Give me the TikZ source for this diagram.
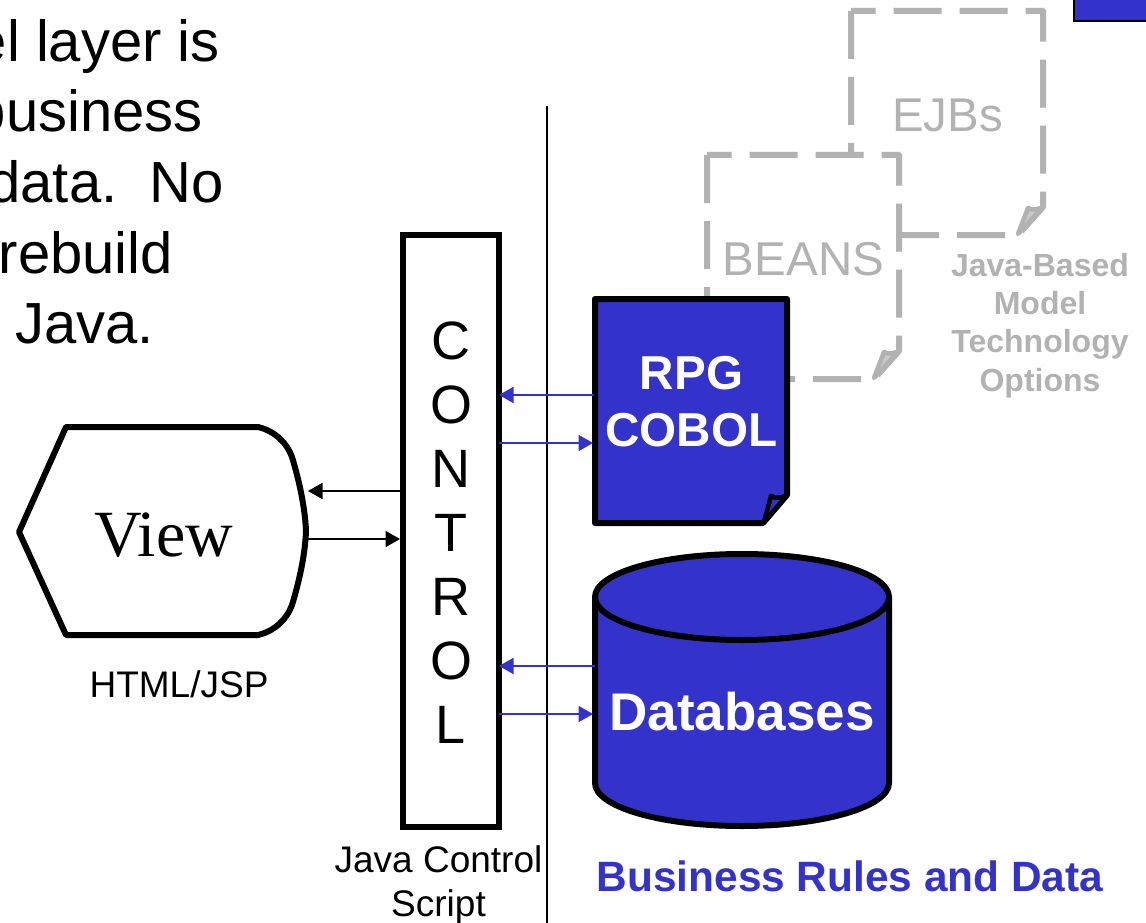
\documentclass[tikz,border=0pt]{standalone}
\usepackage{fontspec}
\setmainfont{Liberation Sans}
\newfontfamily\viewfont{Liberation Serif}
\usepackage{tikz}
\usetikzlibrary{arrows.meta}
\definecolor{modelblue}{HTML}{3333CC}
\definecolor{optgray}{HTML}{B2B2B2}
\definecolor{foldgray}{HTML}{C8C8C8}
\tikzstyle{es} = [line width=1.8pt,-{Triangle[length=14.5pt,width=16pt]}]
\tikzstyle{esblue} = [es,draw=modelblue,color=modelblue]
\tikzstyle{txt} = [inner sep=0pt,anchor=base east,font=\fontsize{58}{70}\selectfont]
\tikzstyle{shapeline} = [line width=6pt,line join=round]
\tikzstyle{optdoc} = [line width=6pt,draw=optgray,fill=white,line join=round,dash pattern=on 48pt off 18pt]
\tikzstyle{optfold} = [line width=4.5pt,draw=optgray,fill=foldgray,line join=round]
\tikzstyle{small} = [inner sep=0pt,align=center,font=\fontsize{37}{44}\selectfont]
\begin{document}
\begin{tikzpicture}[yscale=-1]
			\useasboundingbox (0pt,0pt) rectangle (1146pt,923pt);
			\node[txt] (line1) at (220pt,62pt){el layer is};
			\node[txt] (line2) at (203pt,132pt){business};
			\node[txt] (line3) at (224pt,202pt){data.\ \ No};
			\node[txt] (line4) at (173pt,273pt){rebuild};
			\node[txt] (line5) at (154pt,343pt){Java.};
			\fill[modelblue,draw=black,line width=2pt] (1074pt,-5pt) rectangle (1152pt,21pt);
			% divider
			\draw[line width=1.7pt] (547pt,106pt) -- (547pt,923pt);
			% model options, back to front
			\draw[optdoc] (851pt,11pt) -- (851pt,235pt) -- (1018pt,235pt) -- (1043pt,207pt) -- (1043pt,11pt) -- (851pt,11pt);
			\draw[optfold] (1018pt,234pt) -- (1028pt,208pt) .. controls (1033pt,211pt) and (1038pt,209pt) .. (1043pt,207pt) -- cycle;
			\node[inner sep=0pt,color=optgray,font=\fontsize{47.4}{56}\selectfont] (ejbs) at (947.5pt,115pt){EJBs};
			\draw[optdoc] (707pt,155pt) -- (707pt,379pt) -- (874pt,379pt) -- (899pt,351pt) -- (899pt,155pt) -- (707pt,155pt);
			\draw[optfold] (874pt,378pt) -- (884pt,352pt) .. controls (889pt,355pt) and (894pt,353pt) .. (899pt,351pt) -- cycle;
			\node[inner sep=0pt,color=optgray,font=\fontsize{47.5}{56}\selectfont] (beans) at (803.5pt,259pt){BEANS};
			\node[inner sep=0pt,align=center,color=optgray,font=\fontsize{32}{38.4}\selectfont\bfseries] (options) at (1040pt,325.5pt){Java-Based\\Model\\Technology\\Options};
			% control
			\node[draw,line width=6pt,outer sep=0pt,minimum width=96pt,minimum height=592pt] (control) at (451pt,531pt){};
			\node[inner sep=0pt,align=center,font=\fontsize{54}{64}\selectfont] (letters) at (451pt,533pt){C\\O\\N\\T\\R\\O\\L};
			\node[small] (controlcap) at (438.5pt,885pt){Java Control\\Script};
			% view
			\draw[shapeline] (19pt,532pt) -- (66pt,427pt) -- (258pt,427pt) .. controls (275pt,431pt) and (287pt,443pt) .. (292pt,457pt) .. controls (299pt,480pt) and (305pt,507pt) .. (306pt,531pt) .. controls (305pt,556pt) and (299pt,582pt) .. (292pt,605pt) .. controls (287pt,619pt) and (275pt,631pt) .. (258pt,635pt) -- (66pt,635pt) -- cycle;
			\node[inner sep=0pt,anchor=base,font=\viewfont\fontsize{66}{70}\selectfont] (view) at (163.5pt,556pt){View};
			\node[small] (viewcap) at (179pt,684pt){HTML/JSP};
			\coordinate (viewup) at (308pt,491pt);
			\coordinate (viewdown) at (308pt,539pt);
			\draw[es] ([xshift=-3pt]control.west |- viewup) -- (viewup);
			\draw[es] (viewdown) -- ([xshift=-3pt]control.west |- viewdown);
			% rpg document
			\draw[shapeline,fill=modelblue] (595pt,299pt) -- (787pt,299pt) -- (787pt,495pt) -- (763pt,523pt) -- (595pt,523pt) -- cycle;
			\draw[line width=4.5pt,line join=round,fill=modelblue] (764pt,522pt) -- (771pt,496pt) .. controls (776pt,499pt) and (782pt,498pt) .. (787pt,495pt) -- cycle;
			\node[inner sep=0pt,minimum width=198pt,minimum height=225pt,align=center,text=white,font=\fontsize{47.6}{57}\selectfont\bfseries] (rpg) at (691.5pt,402pt){RPG\\COBOL};
			\coordinate (rpgup) at (594pt,395pt);
			\coordinate (rpgdown) at (593pt,443pt);
			\draw[esblue] (rpgup) -- (control.east |- rpgup);
			\draw[esblue] (control.east |- rpgdown) -- (rpgdown);
			% database
			\draw[shapeline,fill=modelblue] (595pt,597pt) -- (595pt,783pt) arc[start angle=180,end angle=0,x radius=147pt,y radius=43pt] -- (889pt,597pt) arc[start angle=0,end angle=-180,x radius=147pt,y radius=43pt] -- cycle;
			\draw[shapeline] (595pt,597pt) arc[start angle=180,end angle=0,x radius=147pt,y radius=43pt];
			\node[inner sep=0pt,minimum width=298pt,text=white,font=\fontsize{53}{60}\selectfont\bfseries] (db) at (742pt,712pt){Databases};
			\coordinate (dbup) at (595pt,666pt);
			\coordinate (dbdown) at (593pt,714pt);
			\draw[esblue] (dbup) -- (control.east |- dbup);
			\draw[esblue] (control.east |- dbdown) -- (dbdown);
			\node[inner sep=0pt,anchor=base,color=modelblue,font=\fontsize{42.4}{50}\selectfont\bfseries] (rules) at (850pt,891pt){Business Rules and Data};
\end{tikzpicture}
\end{document}
